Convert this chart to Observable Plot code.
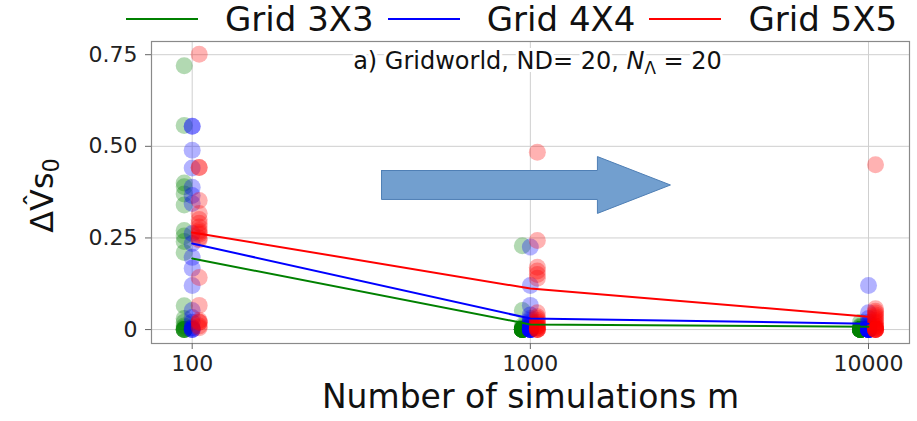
<!DOCTYPE html>
<html><head><meta charset="utf-8">
<script src="https://cdn.jsdelivr.net/npm/d3@7"></script>
<script src="https://cdn.jsdelivr.net/npm/@observablehq/plot@0.6"></script>
<style>
body{margin:0;background:#fff;font-family:"DejaVu Sans",sans-serif;}
#legend{height:38px;width:917px;display:flex;align-items:center;padding-left:126px;box-sizing:border-box;font-size:34px;color:#111;white-space:nowrap;}
#legend .sw{width:72px;height:0;border-top:2.5px solid;margin-right:27px;flex:0 0 auto;}
#legend .lb{margin-right:14px;line-height:38px;flex:0 0 auto;}
</style></head><body>
<div id="legend"></div>
<div id="chart"></div>
<script>
const series = ["Grid 3X3", "Grid 4X4", "Grid 5X5"];
const colors = ["green", "blue", "red"];
const sims = [100, 1000, 10000];
const xTicks = [100, 1000, 10000];
const xTickLabels = ["100", "1000", "10000"];
const yTicks = [0, 0.25, 0.5, 0.75];
const yTickLabels = ["0", "0.25", "0.50", "0.75"];

const green100 = [0.72, 0.557, 0.40, 0.39, 0.37, 0.34, 0.27, 0.255, 0.24, 0.21, 0.065, 0.03, 0.02, 0.01, 0.005, 0, 0, 0, 0, 0];
const green1000 = [0.229, 0.052, 0.01, 0.005, 0.005, 0.002, 0, 0, 0, 0, 0, 0, 0, 0, 0, 0, 0, 0, 0, 0];
const green10000 = [0.02, 0.01, 0.008, 0.005, 0, 0, 0, 0, 0, 0, 0, 0, 0, 0, 0, 0, 0, 0, 0, 0];
const blue100 = [0.555, 0.555, 0.489, 0.441, 0.388, 0.366, 0.344, 0.262, 0.235, 0.197, 0.167, 0.12, 0.052, 0.033, 0.02, 0.005, 0.005, 0, 0, 0];
const blue1000 = [0.225, 0.12, 0.066, 0.04, 0.03, 0.025, 0.02, 0.015, 0.01, 0.01, 0.005, 0.005, 0, 0, 0, 0, 0, 0, 0, 0];
const blue10000 = [0.12, 0.046, 0.03, 0.02, 0.015, 0.01, 0.005, 0.005, 0, 0, 0, 0, 0, 0, 0, 0, 0, 0, 0, 0];
const red100 = [0.751, 0.442, 0.442, 0.352, 0.317, 0.30, 0.29, 0.28, 0.27, 0.265, 0.26, 0.25, 0.245, 0.142, 0.066, 0.025, 0.02, 0.02, 0.01, 0.005];
const red1000 = [0.484, 0.243, 0.17, 0.16, 0.15, 0.14, 0.046, 0.035, 0.03, 0.025, 0.02, 0.015, 0.01, 0.01, 0.005, 0.005, 0, 0, 0, 0];
const red10000 = [0.45, 0.057, 0.05, 0.045, 0.04, 0.035, 0.03, 0.025, 0.02, 0.016, 0.01, 0.01, 0.005, 0.005, 0, 0, 0, 0, 0, 0];

const greenMean = [0.194, 0.014, 0.008];
const blueMean = [0.235, 0.03, 0.016];
const redMean = [0.265, 0.112, 0.035];

// block-arrow annotation, in data units (m, value)
const arrowM = [363, 1579, 1579, 2596, 1579, 1579, 363, 363];
const arrowV = [0.434, 0.434, 0.472, 0.3945, 0.317, 0.355, 0.355, 0.434];

const titleText = "a) Gridworld, ND= 20, N\u039B = 20";
const xLabel = "Number of simulations m";
const yLabel = "\u0394V\u0302s0";

const pts = (arrs) => arrs.flatMap((a, i) => a.map(v => ({m: sims[i], v})));
const greenPts = pts([green100, green1000, green10000]);
const bluePts = pts([blue100, blue1000, blue10000]);
const redPts = pts([red100, red1000, red10000]);
const line = (means) => means.map((v, i) => ({m: sims[i], v}));
const arrow = arrowM.map((m, i) => ({m, v: arrowV[i]}));

// legend
const leg = d3.select("#legend");
series.forEach((s, i) => {
  leg.append("div").attr("class", "sw").style("border-color", colors[i]);
  leg.append("div").attr("class", "lb").text(s);
});

const chart = Plot.plot({
  width: 917, height: 383,
  marginTop: 3, marginBottom: 78, marginLeft: 151, marginRight: 8,
  style: {fontSize: "22px", fontFamily: "DejaVu Sans", color: "#222", background: "#fff"},
  x: {type: "log", domain: [75.8, 13220]},
  y: {domain: [-0.038, 0.786]},
  marks: [
    Plot.gridX(xTicks, {stroke: "#cfcfcf", strokeOpacity: 1}),
    Plot.gridY(yTicks, {stroke: "#cfcfcf", strokeOpacity: 1}),
    Plot.frame({stroke: "#8a8a8a", strokeWidth: 1.2}),
    Plot.axisX(xTicks, {tickSize: 6, tickPadding: 6, stroke: "#666", tickFormat: d => xTickLabels[xTicks.indexOf(+d)], label: null, fontSize: 22}),
    Plot.axisY(yTicks, {tickSize: 6, tickPadding: 8, stroke: "#666", tickFormat: d => yTickLabels[yTicks.indexOf(+d)], label: null, fontSize: 22}),
    Plot.dot(greenPts, {x: "m", y: "v", r: 8.5, fill: colors[0], fillOpacity: 0.3, dx: -8}),
    Plot.dot(bluePts, {x: "m", y: "v", r: 8.5, fill: colors[1], fillOpacity: 0.3, dx: 0}),
    Plot.dot(redPts, {x: "m", y: "v", r: 8.5, fill: colors[2], fillOpacity: 0.3, dx: 7}),
    Plot.line(line(greenMean), {x: "m", y: "v", stroke: colors[0], strokeWidth: 2}),
    Plot.line(line(blueMean), {x: "m", y: "v", stroke: colors[1], strokeWidth: 2}),
    Plot.line(line(redMean), {x: "m", y: "v", stroke: colors[2], strokeWidth: 2}),
    Plot.line(arrow, {x: "m", y: "v", fill: "#729fcf", stroke: "#4f7fb5", strokeWidth: 1}),
    Plot.text([titleText], {frameAnchor: "top", dy: 20, dx: 7, fontSize: 24, fill: "#111", stroke: "white", strokeWidth: 6, lineAnchor: "middle"}),
    Plot.text([xLabel], {frameAnchor: "bottom", dy: 54, fontSize: 33, fill: "#111", lineAnchor: "middle"}),
    Plot.text([yLabel], {frameAnchor: "left", dx: -109, dy: 3, rotate: -90, fontSize: 32, fill: "#111", textAnchor: "middle", lineAnchor: "middle"})
  ]
});
document.getElementById("chart").appendChild(chart);

// rich text: italic N with subscript Λ in title, subscript 0 in y label
d3.select(chart).selectAll("text").each(function() {
  const t = d3.select(this);
  const s = this.textContent;
  if (s === titleText) {
    t.text("");
    t.append("tspan").text("a) Gridworld, ND= 20, ");
    t.append("tspan").attr("font-style", "italic").text("N");
    t.append("tspan").attr("font-size", "0.7em").attr("dy", "0.3em").text("\u039B");
    t.append("tspan").attr("dy", "-0.21em").text(" = 20");
  } else if (s === yLabel) {
    t.text("");
    t.append("tspan").text("\u0394V\u0302s");
    t.append("tspan").attr("font-size", "0.7em").attr("dy", "0.3em").text("0");
  }
});
</script>
</body></html>
